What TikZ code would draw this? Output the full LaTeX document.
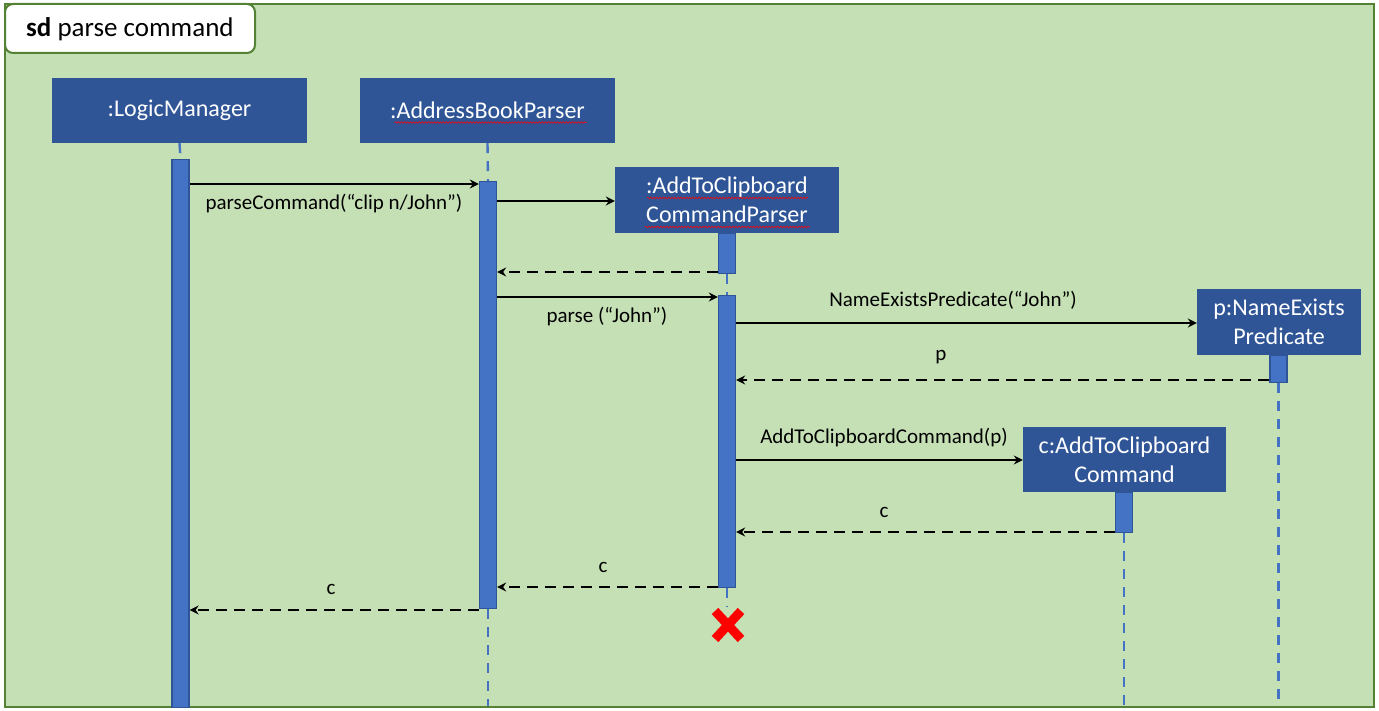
\documentclass[tikz,border=0pt]{standalone}
\usepackage{fontspec}
\setmainfont{Carlito}
\usetikzlibrary{arrows.meta,calc,decorations.pathmorphing}
\definecolor{bggreen}{HTML}{C5E0B4}
\definecolor{framegreen}{HTML}{548235}
\definecolor{headblue}{HTML}{2F5597}
\definecolor{actblue}{HTML}{4472C4}
\tikzset{
  head/.style={fill=headblue, text=white, inner sep=0pt, font=\fontsize{24}{29}\selectfont, align=center},
  act/.style={fill=actblue, draw=headblue, line width=1.3pt, minimum width=17pt, inner sep=0pt, anchor=north},
  life/.style={draw=actblue, line width=2.4pt, dash pattern=on 10pt off 8pt},
  msg/.style={line width=2.8pt, -{Stealth[length=9pt,width=9pt,inset=3pt]}},
  ret/.style={msg, dash pattern=on 11pt off 7pt},
  lbl/.style={font=\fontsize{21}{24}\selectfont, inner sep=0pt},
  squig/.style={red, line width=0.6pt, decorate, decoration={snake, amplitude=0.8pt, segment length=3pt}}
}
\begin{document}
\begin{tikzpicture}[x=1pt,y=-1pt]
\useasboundingbox (0,0) rectangle (1379,711);
\fill[white] (0,0) rectangle (1379,711);
\draw[draw=framegreen, fill=bggreen, line width=2pt] (5,4) rectangle (1374,707);
\draw[draw=framegreen, fill=white, line width=2pt, rounded corners=8pt] (5,4) -- (5,53) -- (255,53) -- (255,4) -- cycle;
\node[anchor=west, inner sep=0pt, font=\fontsize{27}{30}\selectfont] (title) at (26,29) {\textbf{sd} parse command};

% lifeline heads
\node[head, minimum width=255pt, minimum height=65pt] (lm) at (179.5,110.5) {:LogicManager};
\node[head, minimum width=255pt, minimum height=65pt] (abp) at (487.5,110.5) {:AddressBookParser};
\node[head, minimum width=224pt, minimum height=66pt] (accp) at (727,200) {:AddToClipboard\\CommandParser};
\node[head, minimum width=164pt, minimum height=66pt] (pne) at (1279,322) {p:NameExists\\Predicate};
\node[head, minimum width=203pt, minimum height=65pt] (cmd) at (1124.5,459.5) {c:AddToClipboard\\Command};

% spell-check underlines
\draw[squig] ($(abp.center)+(-93,12)$) -- ($(abp.center)+(99,12)$);
\draw[squig] ($(accp.center)+(-80,-2)$) -- ($(accp.center)+(81,-2)$);
\draw[squig] ($(accp.center)+(-82,27)$) -- ($(accp.center)+(83,27)$);

% activations
\node[act, minimum height=548pt] (a1) at (180.5,159) {};
\node[act, minimum height=427pt] (a2) at (488,181) {};
\node[act, minimum height=40pt] (a3) at (727,233) {};
\node[act, minimum height=292pt] (a4) at (727,295) {};
\node[act, minimum height=27pt] (a5) at (1278.5,355) {};
\node[act, minimum height=40pt] (a6) at (1124,492) {};

% lifelines
\draw[life] (lm.south) -- (a1.north);
\draw[life] (abp.south) -- (a2.north);
\draw[life] (a2.south) -- (488,706);
\draw[life] (a3.south) -- (a4.north);
\draw[life] (a4.south) -- (727,607);
\draw[life] (a5.south) -- (1278.5,706);
\draw[life] (a6.south) -- (1124,706);

% destruction mark
\coordinate (xmark) at (728,625);
\draw[red, line width=9pt] ($(xmark)+(-13,-14)$) -- ($(xmark)+(13,14)$);
\draw[red, line width=9pt] ($(xmark)+(13,-14)$) -- ($(xmark)+(-13,14)$);

% messages
\draw[msg] (a1.east |- 0,184) -- (a2.west |- 0,184);
\node[lbl] (l1) at (334,204) {parseCommand(“clip n/John”)};
\draw[msg] (a2.east |- 0,201) -- (accp.west |- 0,201);
\draw[ret] (a3.west |- 0,272) -- (a2.east |- 0,272);
\draw[msg] (a2.east |- 0,297) -- (a4.west |- 0,297);
\node[lbl] (l2) at (607,317) {parse (“John”)};
\draw[msg] (a4.east |- 0,323) -- (pne.west |- 0,323);
\node[lbl] (l3) at (953,300) {NameExistsPredicate(“John”)};
\draw[ret] (a5.west |- 0,380) -- (a4.east |- 0,380);
\node[lbl] (l4) at (941,357) {p};
\draw[msg] (a4.east |- 0,460) -- (cmd.west |- 0,460);
\node[lbl] (l5) at (884,438) {AddToClipboardCommand(p)};
\draw[ret] (a6.west |- 0,532) -- (a4.east |- 0,532);
\node[lbl] (l6) at (884,512) {c};
\draw[ret] (a4.west |- 0,587) -- (a2.east |- 0,587);
\node[lbl] (l7) at (603,567) {c};
\draw[ret] (a2.west |- 0,610) -- (a1.east |- 0,610);
\node[lbl] (l8) at (331,589) {c};
\end{tikzpicture}
\end{document}
